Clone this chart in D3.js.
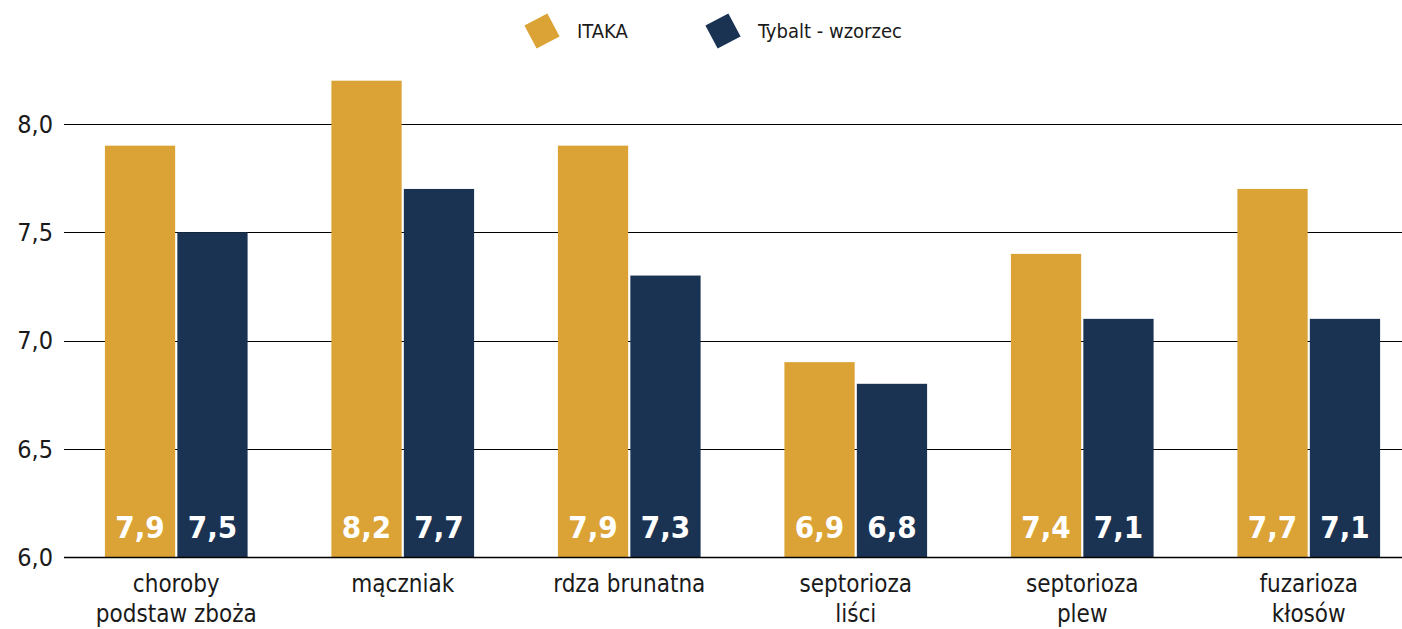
<!DOCTYPE html>
<html>
<head>
<meta charset="utf-8">
<script src="https://cdn.jsdelivr.net/npm/d3@7"></script>
<style>
  body { margin: 0; background: #fff; }
  svg { display: block; }
  text { font-family: "Liberation Sans Narrow", "DejaVu Sans Condensed", "Roboto", sans-serif; }
</style>
</head>
<body>
<div id="chart"></div>
<script>
'use strict';
const categories = [["choroby", "podstaw zboża"], ["mączniak"], ["rdza brunatna"], ["septorioza", "liści"], ["septorioza", "plew"], ["fuzarioza", "kłosów"]];
const seriesNames = ["ITAKA", "Tybalt - wzorzec"];
const itaka = [7.9, 8.2, 7.9, 6.9, 7.4, 7.7];
const tybalt = [7.5, 7.7, 7.3, 6.8, 7.1, 7.1];
const yTicks = [6.0, 6.5, 7.0, 7.5, 8.0];
const colors = ["#DBA336", "#1B3353"];

const W = 1402, H = 629;
const svg = d3.select("#chart").append("svg").attr("width", W).attr("height", H);

let y = d3.scaleLinear().domain([6, 8]).range([557, 124]);
let x0 = d3.scaleBand().domain(d3.range(categories.length)).range([63, 1422]).paddingInner(0.37).paddingOuter(0.185);
let x1 = d3.scaleBand().domain([0, 1]).range([0, x0.bandwidth()]).paddingInner(0.03);

const fmt = v => d3.format(".1f")(v).replace(".", ",");

// gridlines + y labels
let grid = svg.append("g");
grid.selectAll("line").data(yTicks).enter().append("line")
    .attr("x1", 64).attr("x2", W)
    .attr("y1", d => Math.round(y(d)) + 0.5).attr("y2", d => Math.round(y(d)) + 0.5)
    .attr("stroke", "#000").attr("stroke-width", 1);
grid.selectAll("text").data(yTicks).enter().append("text")
    .attr("x", 53).attr("y", d => y(d)).attr("dy", "0.35em")
    .attr("text-anchor", "end").attr("font-size", 25).attr("fill", "#1a1a1a")
    .text(fmt);

// bars
let groups = svg.selectAll("g.grp").data(categories).enter().append("g").attr("class", "grp")
    .attr("transform", (d, i) => "translate(" + x0(i) + ",0)");
groups.each(function (d, i) {
    let g = d3.select(this);
    [itaka[i], tybalt[i]].forEach((v, s) => {
        g.append("rect").attr("x", x1(s)).attr("width", x1.bandwidth())
            .attr("y", y(v)).attr("height", y(6) - y(v)).attr("fill", colors[s]);
        g.append("text").attr("x", x1(s) + x1.bandwidth() / 2).attr("y", 538)
            .attr("text-anchor", "middle").attr("font-size", 31).attr("font-weight", "bold")
            .attr("fill", "#fff").text(fmt(v));
    });
    d.forEach((line, k) => {
        g.append("text").attr("x", x0.bandwidth() / 2).attr("y", 592 + k * 30)
            .attr("text-anchor", "middle").attr("font-size", 24).attr("fill", "#1a1a1a")
            .text(line);
    });
});

// baseline
svg.append("line").attr("x1", 64).attr("x2", W).attr("y1", 557.5).attr("y2", 557.5)
    .attr("stroke", "#000").attr("stroke-width", 1.5);

// legend
const legX = [542, 723];
let leg = svg.selectAll("g.leg").data(seriesNames).enter().append("g").attr("class", "leg")
    .attr("transform", (d, i) => "translate(" + legX[i] + ",31)");
leg.append("rect").attr("x", -13).attr("y", -13).attr("width", 26).attr("height", 26)
    .attr("transform", "rotate(-28)").attr("fill", (d, i) => colors[i]);
leg.append("text").attr("x", 35).attr("dy", "0.35em").attr("font-size", 20).attr("fill", "#1a1a1a").text(d => d);
</script>
</body>
</html>
